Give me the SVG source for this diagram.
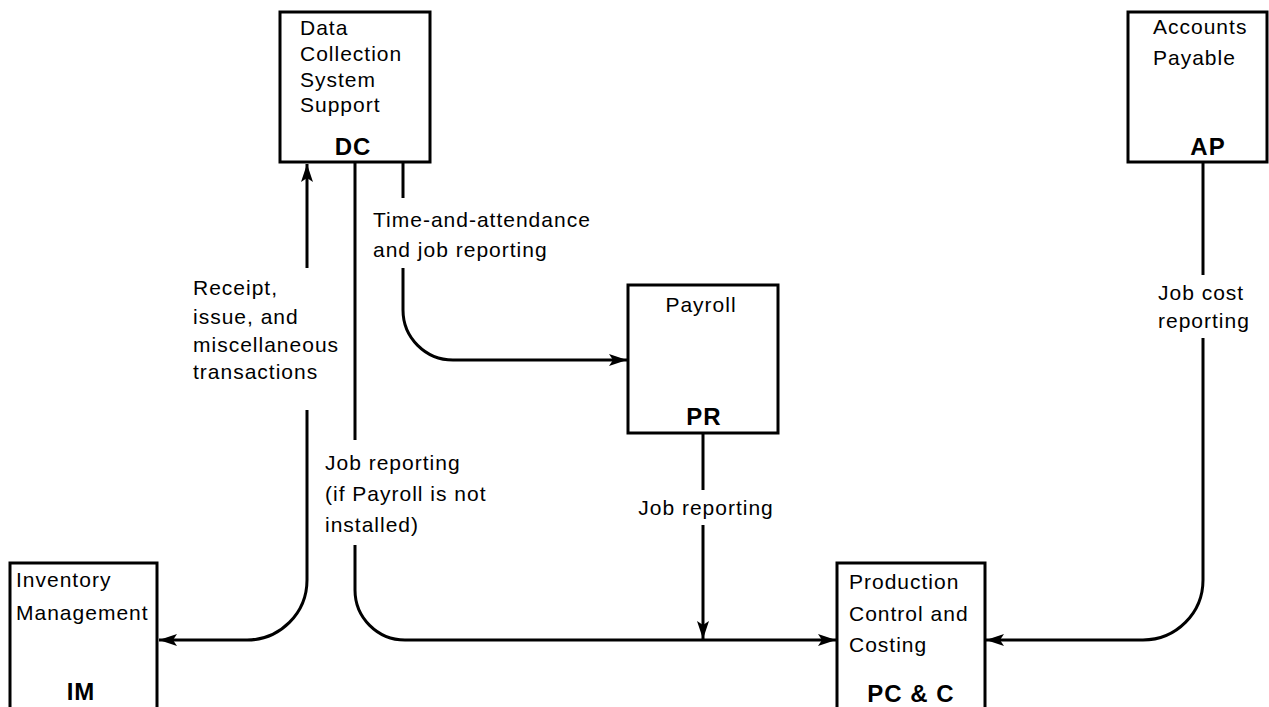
<svg xmlns="http://www.w3.org/2000/svg" width="1269" height="707" viewBox="0 0 1269 707">
<style>
.box{fill:#fff;stroke:#000;stroke-width:3}
.t{font-family:"Liberation Sans",Arial,sans-serif;font-size:21px;letter-spacing:1px;fill:#000}
.b{font-family:"Liberation Sans",Arial,sans-serif;font-size:24px;font-weight:bold;letter-spacing:1px;fill:#000;text-anchor:middle}
.c{fill:none;stroke:#000;stroke-width:3}
</style>
<defs>
<marker id="ah" markerUnits="userSpaceOnUse" markerWidth="20" markerHeight="14" viewBox="0 -7 20 14" refX="18" refY="0" orient="auto">
<path d="M0,-6 L18,0 L0,6 L4,0 z" fill="#000"/>
</marker>
</defs>
<rect width="1269" height="707" fill="#fff"/>
<g id="connectors">
<path class="c" d="M307,268 V164" marker-end="url(#ah)"/>
<path class="c" d="M307,410 V580 A60,60 0 0 1 247,640 H159" marker-end="url(#ah)"/>
<path class="c" d="M403,163 V198"/>
<path class="c" d="M403,268 V310 A50,50 0 0 0 453,360 H627" marker-end="url(#ah)"/>
<path class="c" d="M355,163 V440"/>
<path class="c" d="M355,545 V590 A50,50 0 0 0 405,640 H836" marker-end="url(#ah)"/>
<path class="c" d="M703,434 V490"/>
<path class="c" d="M703,525 V639" marker-end="url(#ah)"/>
<path class="c" d="M1203,163 V275"/>
<path class="c" d="M1203,338 V580 A60,60 0 0 1 1143,640 H986" marker-end="url(#ah)"/>
<text class="t" x="373" y="227">Time-and-attendance</text>
<text class="t" x="373" y="257">and job reporting</text>
<text class="t" x="193" y="295">Receipt,</text>
<text class="t" x="193" y="324">issue, and</text>
<text class="t" x="193" y="352">miscellaneous</text>
<text class="t" x="193" y="379">transactions</text>
<text class="t" x="325" y="470">Job reporting</text>
<text class="t" x="325" y="501">(if Payroll is not</text>
<text class="t" x="325" y="532">installed)</text>
<text class="t" x="706" y="515" text-anchor="middle">Job reporting</text>
<text class="t" x="1158" y="300">Job cost</text>
<text class="t" x="1158" y="328">reporting</text>
</g>
<g id="node-dc">
<rect class="box" x="280" y="12" width="150" height="150"/>
<text class="t" x="300" y="35">Data</text>
<text class="t" x="300" y="61">Collection</text>
<text class="t" x="300" y="87">System</text>
<text class="t" x="300" y="112">Support</text>
<text class="b" x="353" y="155">DC</text>
</g>
<g id="node-ap">
<rect class="box" x="1128" y="12" width="139" height="150"/>
<text class="t" x="1153" y="34">Accounts</text>
<text class="t" x="1153" y="65">Payable</text>
<text class="b" x="1208" y="155">AP</text>
</g>
<g id="node-pr">
<rect class="box" x="628" y="285" width="150" height="148"/>
<text class="t" x="701" y="312" text-anchor="middle">Payroll</text>
<text class="b" x="704" y="425">PR</text>
</g>
<g id="node-im">
<rect class="box" x="10" y="563" width="147" height="160"/>
<text class="t" x="16" y="587">Inventory</text>
<text class="t" x="16" y="620">Management</text>
<text class="b" x="81" y="700">IM</text>
</g>
<g id="node-pcc">
<rect class="box" x="837" y="563" width="148" height="160"/>
<text class="t" x="849" y="589">Production</text>
<text class="t" x="849" y="621">Control and</text>
<text class="t" x="849" y="652">Costing</text>
<text class="b" x="911" y="702">PC &amp; C</text>
</g>
</svg>
